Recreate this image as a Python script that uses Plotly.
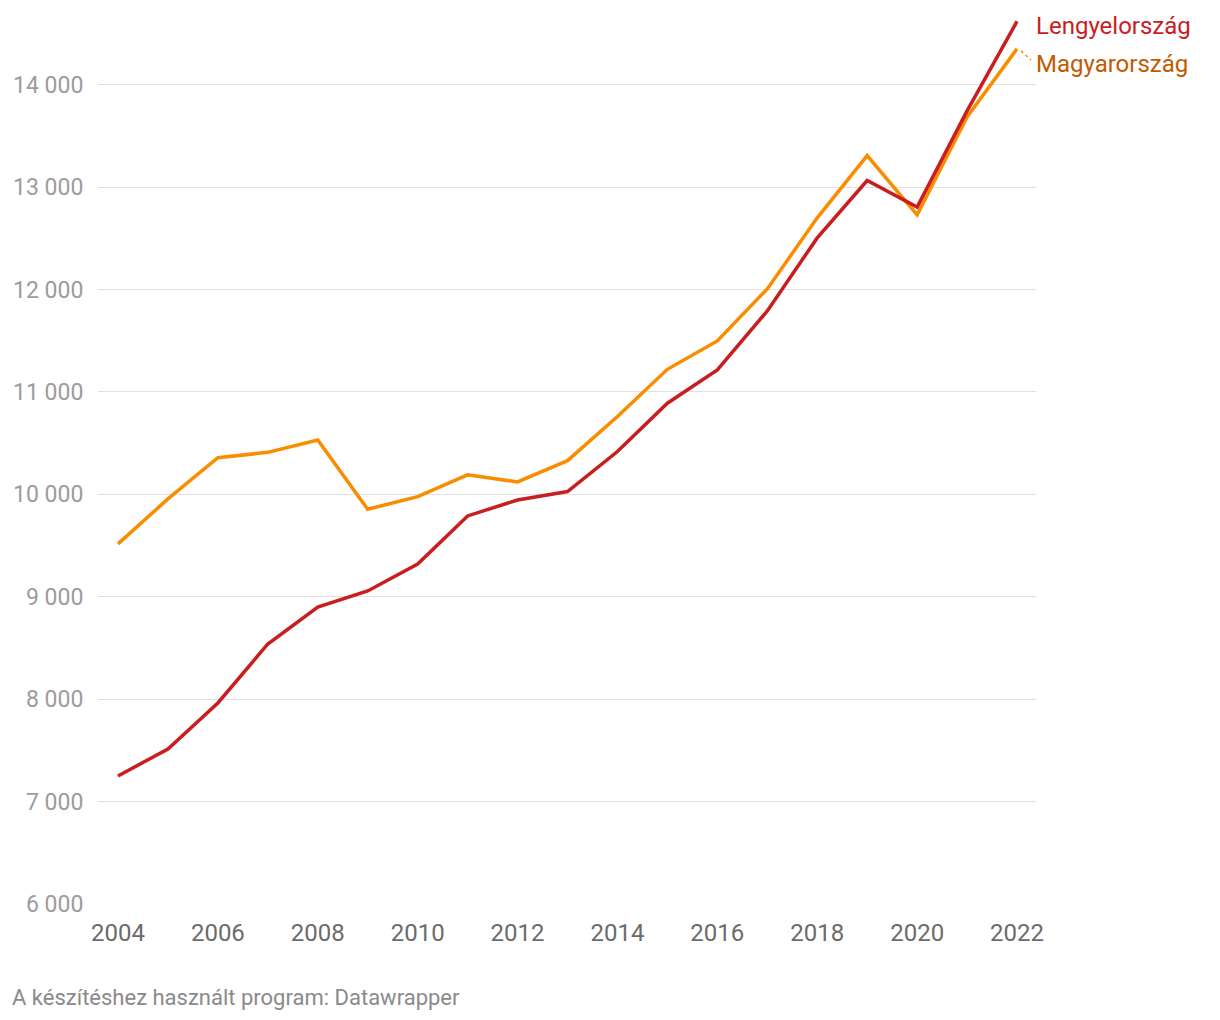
import plotly.graph_objects as go

years = list(range(2004, 2023))
lengyel = [7250, 7514, 7963, 8539, 8900, 9057, 9320, 9789, 9945, 10027,
           10418, 10890, 11215, 11791, 12504, 13064, 12805, 13744, 14619]
magyar = [9516, 9955, 10358, 10410, 10531, 9854, 9978, 10190, 10121, 10329,
          10760, 11221, 11498, 12006, 12700, 13308, 12729, 13686, 14350]
y_ticks = [6000, 7000, 8000, 9000, 10000, 11000, 12000, 13000, 14000]
x_ticks = list(range(2004, 2023, 2))

RED = "#c91d1f"
ORANGE = "#fa8c00"
ORANGE_TXT = "#c25a00"

fig = go.Figure()
fig.add_trace(go.Scatter(x=years, y=magyar, mode="lines", name="Magyarország",
                         line=dict(color=ORANGE, width=3.5), hoverinfo="x+y"))
fig.add_trace(go.Scatter(x=years, y=lengyel, mode="lines", name="Lengyelország",
                         line=dict(color=RED, width=3.5), hoverinfo="x+y"))

fig.add_annotation(x=years[-1], y=lengyel[-1], xref="x", yref="y",
                   text="Lengyelország", showarrow=False, xanchor="left",
                   xshift=17, yshift=-5, font=dict(color=RED, size=24, family="Roboto"))
fig.add_annotation(x=years[-1], y=magyar[-1], xref="x", yref="y",
                   text="Magyarország", showarrow=False, xanchor="left",
                   xshift=17, yshift=-15, font=dict(color=ORANGE_TXT, size=24, family="Roboto"))
fig.add_shape(type="line", xref="x", yref="y",
              x0=years[-1] + 0.08, y0=magyar[-1] - 20,
              x1=years[-1] + 0.28, y1=magyar[-1] - 110,
              line=dict(color=ORANGE, width=1.5, dash="dot"))

fig.add_annotation(x=0, y=0, xref="paper", yref="paper", xanchor="left", yanchor="middle",
                   text="A készítéshez használt program: Datawrapper", showarrow=False,
                   xshift=-88, yshift=-93, font=dict(color="#8a8a8a", size=22, family="Roboto"))

fig.update_layout(
    width=1212, height=1012,
    margin=dict(l=88, r=184, t=5, b=116),
    plot_bgcolor="white", paper_bgcolor="white",
    showlegend=False,
    separators=". ",
    font=dict(family="Roboto", size=20),
    xaxis=dict(range=[2003.6, 2022.38], tickvals=x_ticks, showgrid=False,
               zeroline=False, showline=False, ticks="outside", ticklen=7,
               tickcolor="rgba(0,0,0,0)", tickfont=dict(color="#6b6b6b", size=24)),
    yaxis=dict(range=[6000, 14700], tickvals=y_ticks, tickformat=",d",
               showgrid=True, gridcolor="#e0e0e0", gridwidth=1, zeroline=False,
               showline=False, ticks="outside", ticklen=9,
               tickcolor="rgba(0,0,0,0)", tickfont=dict(color="#9c9c9c", size=23)),
)

fig.write_html("out.html")
